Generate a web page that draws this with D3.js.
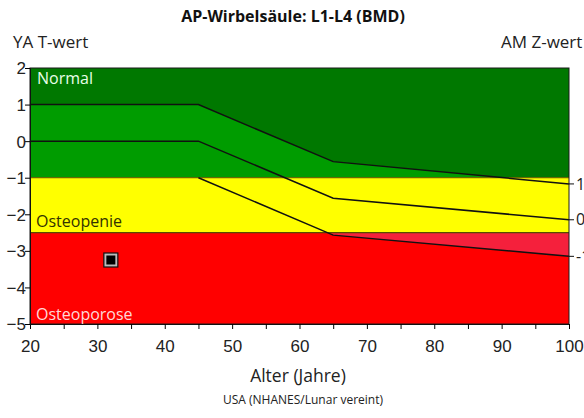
<!DOCTYPE html>
<html><head><meta charset="utf-8">
<script src="https://cdn.jsdelivr.net/npm/d3@7"></script>
<style>body{margin:0;background:#fff;}svg{display:block;font-family:"Open Sans",sans-serif;}</style>
</head><body><svg id="c" width="584" height="418"></svg>
<script>
const title = "AP-Wirbelsäule: L1-L4 (BMD)";
const xTicks = [20,30,40,50,60,70,80,90,100];
const yTicks = [2,1,0,-1,-2,-3,-4,-5];
const zTicks = [1,0,-1];
const upperAges = [20,45,65,100];
const upperVals = [1,1,-0.56,-1.17];
const midAges = [20,45,65,100];
const midVals = [0,0,-1.56,-2.15];
const lowerAges = [45,65,100];
const lowerVals = [-1,-2.57,-3.15];
const zones = [{name:"Normal",top:2,bot:-1},{name:"Osteopenie",top:-1,bot:-2.5},{name:"Osteoporose",top:-2.5,bot:-5}];
const patientAge = [32];
const patientT = [-3.25];

const svg = d3.select("#c");
const L=30,R=569,T=68,B=324;
const x = d3.scaleLinear().domain([20,100]).range([L,R]);
const y = d3.scaleLinear().domain([-5,2]).range([B,T]);

const zoneColor = {"Normal":"#007800","Osteopenie":"#ffff00","Osteoporose":"#ff0000"};
const bandColor = {"Normal":"#009c00","Osteopenie":"#ffff00","Osteoporose":"#f5203c"};
const defs = svg.append("defs");
zones.forEach((z,i)=>{
  defs.append("clipPath").attr("id","clip"+i).append("rect")
    .attr("x",x(20)).attr("y",y(z.top)).attr("width",x(100)-x(20)).attr("height",y(z.bot)-y(z.top));
  svg.append("rect").attr("x",x(20)).attr("y",y(z.top)).attr("width",x(100)-x(20))
    .attr("height",y(z.bot)-y(z.top)).attr("fill",zoneColor[z.name]);
});
// band between upper and lower curves
const lowerFull = upperAges.map(a=> a<45 ? -1 : d3.scaleLinear().domain(lowerAges).range(lowerVals)(a));
const band = upperAges.map((a,i)=>({a, hi:upperVals[i], lo:lowerFull[i]}));
const area = d3.area().x(d=>x(d.a)).y0(d=>y(d.lo)).y1(d=>y(d.hi));
zones.forEach((z,i)=>{
  svg.append("path").attr("d",area(band)).attr("fill",bandColor[z.name]).attr("clip-path","url(#clip"+i+")");
});
// zone boundary lines
[-1,-2.5].forEach(v=>{
  svg.append("line").attr("x1",x(20)).attr("x2",x(100)).attr("y1",y(v)).attr("y2",y(v))
    .attr("stroke",v===-1?"#6a6a00":"#5a4a00").attr("stroke-width",1.2);
});
const line = d3.line().x(d=>x(d[0])).y(d=>y(d[1]));
[[upperAges,upperVals],[midAges,midVals],[lowerAges,lowerVals]].forEach(([a,v])=>{
  svg.append("path").attr("d",line(a.map((d,i)=>[d,v[i]]))).attr("fill","none")
    .attr("stroke","#111").attr("stroke-width",1.5);
});
// border
svg.append("rect").attr("x",x(20)).attr("y",y(2)).attr("width",x(100)-x(20)).attr("height",y(-5)-y(2))
  .attr("fill","none").attr("stroke","#1a1a1a").attr("stroke-width",1);

// axes
const xAxis = d3.axisBottom(x).tickValues(d3.range(20,101,5)).tickSize(5)
  .tickFormat(d=> xTicks.includes(d)? d : "");
const gx = svg.append("g").attr("transform",`translate(0,${B})`).call(xAxis);
gx.select(".domain").attr("stroke","#111");
gx.selectAll("text").attr("font-size",17).attr("fill","#222").attr("dy",0).attr("y",28);
const yAxis = d3.axisLeft(y).tickValues(yTicks).tickSize(5).tickFormat(d3.format("d"));
const gy = svg.append("g").attr("transform",`translate(${L},0)`).call(yAxis);
gy.select(".domain").attr("stroke","#111");
gy.selectAll("text").attr("font-size",17).attr("fill","#222").attr("x",-4).attr("dy","0.35em");
// right Z ticks at curve ends
const zPos = [upperVals[upperVals.length-1], midVals[midVals.length-1], lowerVals[lowerVals.length-1]];
zTicks.forEach((t,i)=>{
  svg.append("line").attr("x1",R).attr("x2",R+5).attr("y1",y(zPos[i])).attr("y2",y(zPos[i])).attr("stroke","#111");
  svg.append("text").attr("x",R+7).attr("y",y(zPos[i])).attr("dy","0.35em").attr("font-size",16).attr("fill","#222").text(t);
});

// zone labels
svg.append("text").attr("x",37).attr("y",84).attr("font-size",16).attr("fill","#e8ffe8").text("Normal");
svg.append("text").attr("x",36).attr("y",227).attr("font-size",16).attr("fill","#333300").text("Osteopenie");
svg.append("text").attr("x",36).attr("y",320).attr("font-size",16).attr("fill","#ffd8d8").text("Osteoporose");

// patient marker
patientAge.forEach((a,i)=>{
  const cx=x(a), cy=y(patientT[i]);
  svg.append("rect").attr("x",cx-7).attr("y",cy-7).attr("width",14).attr("height",14).attr("fill","#bbb").attr("stroke","#111").attr("stroke-width",1.2);
  svg.append("rect").attr("x",cx-4.5).attr("y",cy-4.5).attr("width",9).attr("height",9).attr("fill","#000");
});

// texts
svg.append("text").attr("x",293).attr("y",22).attr("text-anchor","middle").attr("font-size",16).attr("font-weight","bold").attr("fill","#111").text(title);
svg.append("text").attr("x",13).attr("y",48).attr("font-size",17).attr("fill","#222").text("YA T-wert");
svg.append("text").attr("x",501).attr("y",48).attr("font-size",17).attr("fill","#222").text("AM Z-wert");
svg.append("text").attr("x",298).attr("y",382).attr("text-anchor","middle").attr("font-size",17.5).attr("fill","#222").text("Alter (Jahre)");
svg.append("text").attr("x",303).attr("y",404).attr("text-anchor","middle").attr("font-size",12).attr("fill","#222").text("USA (NHANES/Lunar vereint)");
</script></body></html>
